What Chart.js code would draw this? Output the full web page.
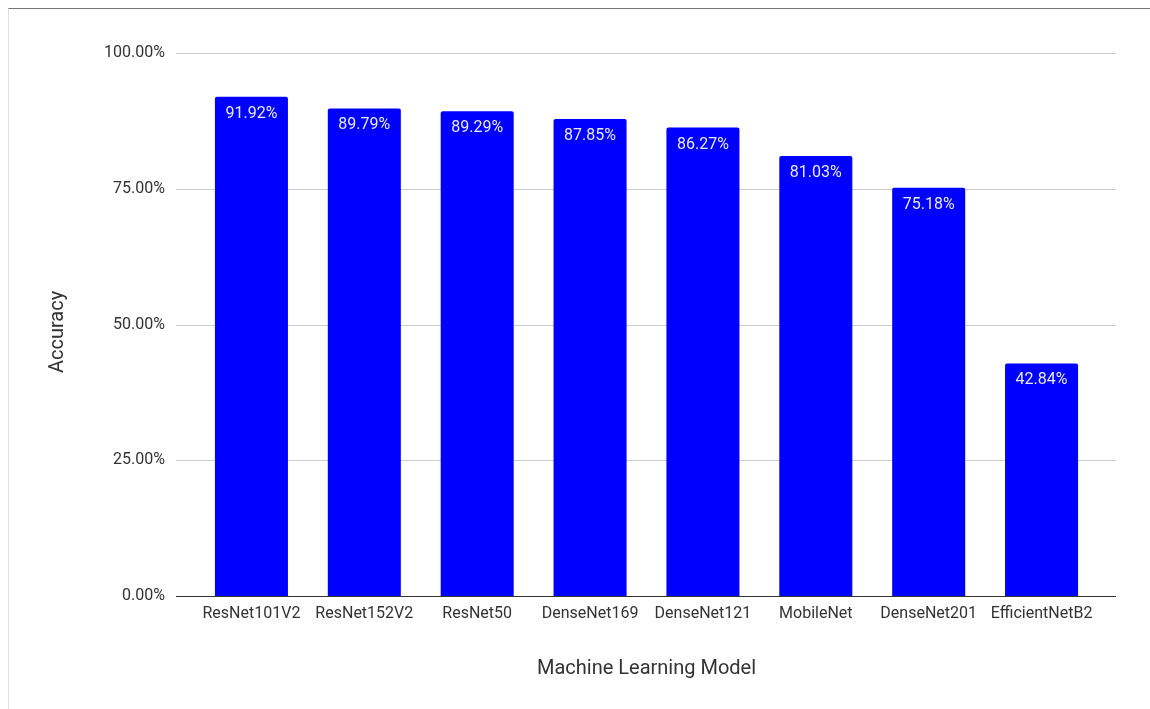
<!DOCTYPE html>
<html>
<head>
<meta charset="utf-8">
<script src="https://cdn.jsdelivr.net/npm/chart.js@4.4.0/dist/chart.umd.min.js"></script>
<style>
  html, body { margin: 0; padding: 0; background: #fff; }
  #frame {
    position: absolute; left: 8px; top: 8px; right: 0; bottom: 0;
    border-top: 1px solid #757575; border-left: 1px solid #e0e0e0;
  }
  #wrap { position: absolute; left: 0; top: 0; width: 1150px; height: 709px; }
</style>
</head>
<body>
<div id="frame"></div>
<div id="wrap"><canvas id="chart" width="1150" height="709"></canvas></div>
<script>
// model names and accuracy (%)
const models = ['ResNet101V2', 'ResNet152V2', 'ResNet50', 'DenseNet169', 'DenseNet121', 'MobileNet', 'DenseNet201', 'EfficientNetB2'];
const accuracy = [91.92, 89.79, 89.29, 87.85, 86.27, 81.03, 75.18, 42.84];
const yTicks = [0, 25, 50, 75, 100];

// horizontal grid lines, a bit wider than the plot area (like google sheets)
const gridPlugin = {
    id: 'wideGrid',
    beforeDatasetsDraw(chart) {
        const { ctx, chartArea, scales: { y } } = chart;
        ctx.save();
        ctx.strokeStyle = '#cccccc';
        ctx.lineWidth = 1;
        yTicks.forEach(v => {
            if (v === 0) return;
            const py = Math.round(y.getPixelForValue(v)) + 0.5;
            ctx.beginPath();
            ctx.moveTo(chartArea.left - 19, py);
            ctx.lineTo(chartArea.right + 18, py);
            ctx.stroke();
        });
        ctx.restore();
    },
    afterDatasetsDraw(chart) {
        const { ctx, chartArea, scales: { y } } = chart;
        ctx.save();
        // zero line
        ctx.strokeStyle = '#333333';
        ctx.lineWidth = 1;
        const py = Math.round(y.getPixelForValue(0)) + 0.5;
        ctx.beginPath();
        ctx.moveTo(chartArea.left - 19, py);
        ctx.lineTo(chartArea.right + 18, py);
        ctx.stroke();

        // value labels inside bar tops
        ctx.font = '16px Roboto';
        ctx.fillStyle = '#e8e8ff';
        ctx.textAlign = 'center';
        ctx.textBaseline = 'middle';
        const meta = chart.getDatasetMeta(0);
        meta.data.forEach((bar, i) => {
            ctx.fillText(accuracy[i].toFixed(2) + '%', bar.x, bar.y + 17);
        });
        ctx.restore();
    }
};

new Chart(document.getElementById('chart'), {
    type: 'bar',
    data: {
        labels: models,
        datasets: [{
            data: accuracy,
            backgroundColor: '#0000ff',
            borderRadius: { topLeft: 2, topRight: 2 },
            borderSkipped: 'start',
            barPercentage: 0.647,
            categoryPercentage: 1.0
        }]
    },
    options: {
        responsive: false,
        animation: false,
        layout: { padding: { left: 0, right: 52, top: 53, bottom: 0 } },
        plugins: {
            legend: { display: false },
            tooltip: { enabled: false }
        },
        scales: {
            x: {
                grid: { display: false, drawTicks: false },
                border: { display: false },
                ticks: {
                    font: { family: 'Roboto', size: 16 },
                    color: '#333333',
                    padding: 8,
                    maxRotation: 0,
                    autoSkip: false
                },
                title: {
                    display: true,
                    text: 'Machine Learning Model',
                    font: { family: 'Roboto', size: 20 },
                    color: '#333333',
                    padding: { top: 0, bottom: 28 }
                },
                afterFit(scale) { scale.height = 113; }
            },
            y: {
                min: 0,
                max: 100,
                grid: { display: false, drawTicks: false },
                border: { display: false },
                afterBuildTicks(scale) { scale.ticks = yTicks.map(v => ({ value: v })); },
                ticks: {
                    font: { family: 'Roboto', size: 16 },
                    color: '#333333',
                    padding: 30,
                    callback: v => v.toFixed(2) + '%'
                },
                title: {
                    display: true,
                    // trailing spaces nudge the centred title a little lower, as in the original
                    text: 'Accuracy   ',
                    font: { family: 'Roboto', size: 20 },
                    color: '#333333',
                    padding: { top: 46, bottom: 0 }
                },
                afterFit(scale) { scale.width = 195; }
            }
        }
    },
    plugins: [gridPlugin]
});
</script>
</body>
</html>
